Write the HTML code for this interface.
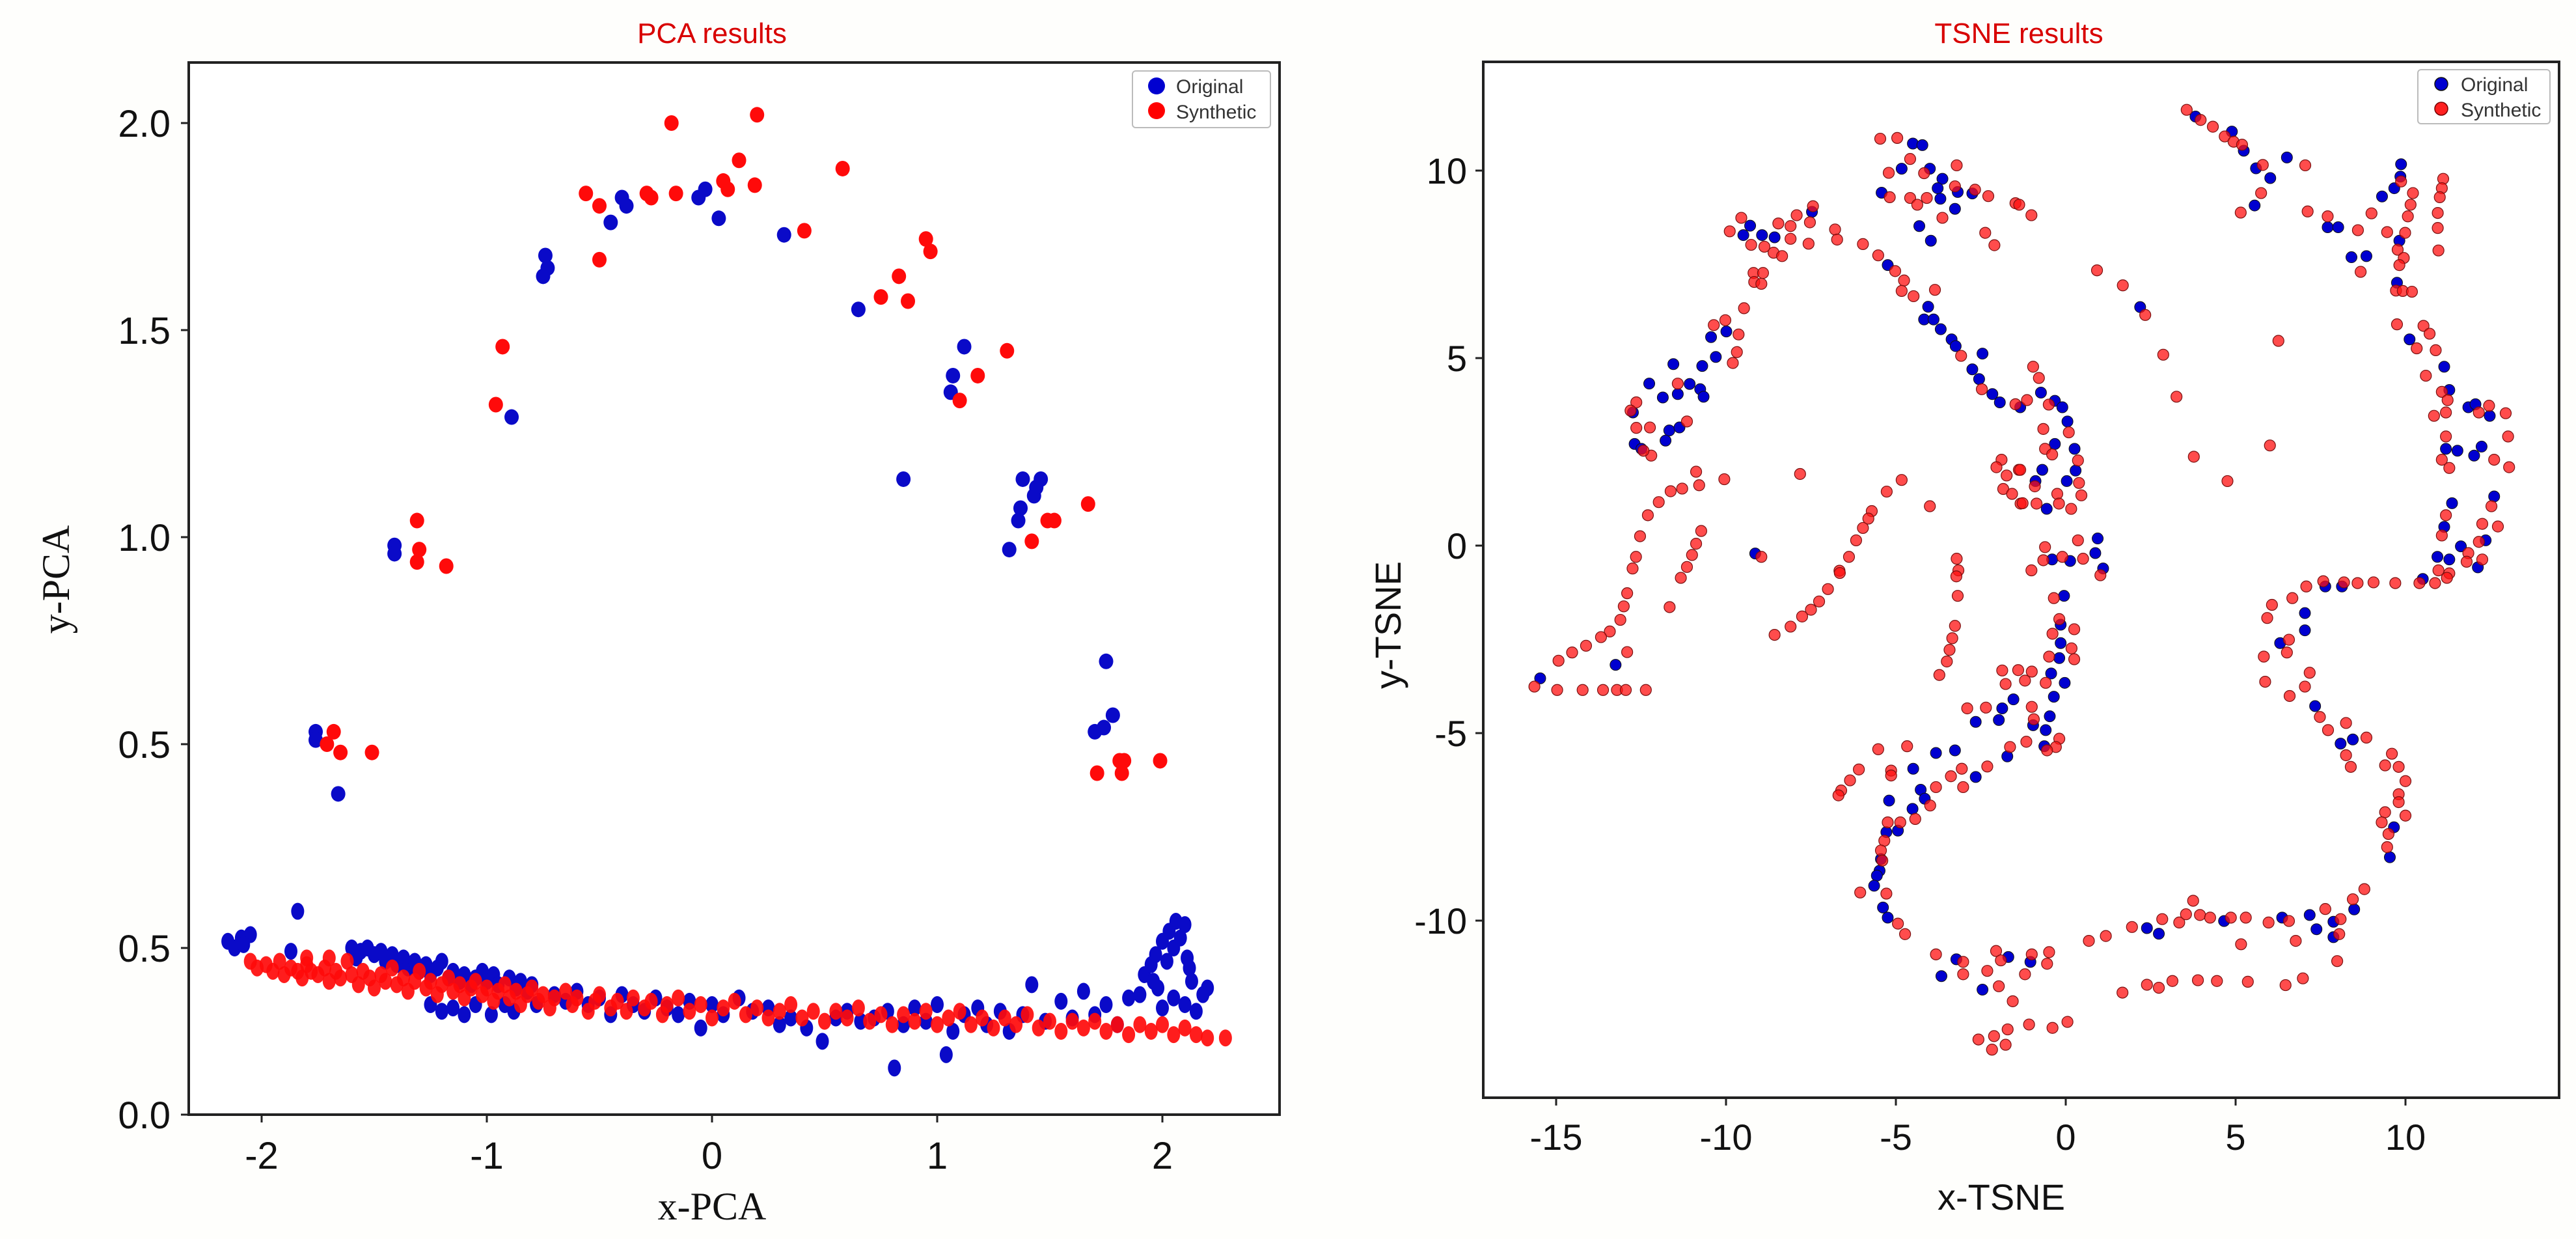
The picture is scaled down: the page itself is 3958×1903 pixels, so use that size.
<!DOCTYPE html>
<html><head><meta charset="utf-8">
<style>
html,body{margin:0;padding:0;background:#fefefc;}
svg{display:block;font-family:"Liberation Sans",sans-serif;}
</style></head>
<body>
<svg id="fig" width="3958" height="1903" viewBox="0 0 3958 1903" xmlns="http://www.w3.org/2000/svg">
<rect x="0" y="0" width="3958" height="1903" fill="#fefefc"/>
<g id="pca">
  <rect x="290" y="96" width="1676" height="1616" fill="#fff" stroke="#222" stroke-width="4"/>
  <text x="1094" y="66" font-size="44" fill="#d80000" text-anchor="middle">PCA results</text>
  <text x="1094" y="1873" font-size="60" font-family="Liberation Serif, serif" fill="#111" text-anchor="middle">x-PCA</text>
  <text x="0" y="0" font-size="60" font-family="Liberation Serif, serif" fill="#111" text-anchor="middle" transform="translate(106,890) rotate(-90)">y-PCA</text>
  <g id="pca-axes"></g>
  <g id="pca-marks"></g>
  <g>
    <rect x="1740" y="109" width="212" height="87" rx="5" fill="#fff" stroke="#bbb" stroke-width="2"/>
    <circle cx="1777" cy="132" r="13" fill="#0000d0"/>
    <text x="1807" y="143" font-size="30" fill="#333">Original</text>
    <circle cx="1777" cy="170" r="13" fill="#ff0000"/>
    <text x="1807" y="182" font-size="30" fill="#333">Synthetic</text>
  </g>
</g>
<g id="tsne">
  <rect x="2279" y="95" width="1653" height="1591" fill="#fff" stroke="#222" stroke-width="4"/>
  <text x="3102" y="66" font-size="44" fill="#d80000" text-anchor="middle">TSNE results</text>
  <text x="3075" y="1858" font-size="56" fill="#111" text-anchor="middle">x-TSNE</text>
  <text x="0" y="0" font-size="56" fill="#111" text-anchor="middle" transform="translate(2152,960) rotate(-90)">y-TSNE</text>
  <g id="tsne-axes"></g>
  <g id="tsne-marks"></g>
  <g>
    <rect x="3715" y="107" width="203" height="83" rx="5" fill="#fff" stroke="#bbb" stroke-width="2"/>
    <circle cx="3751" cy="129" r="10" fill="#0000d0" stroke="#111" stroke-width="1.5"/>
    <text x="3781" y="140" font-size="30" fill="#333">Original</text>
    <circle cx="3751" cy="167" r="10" fill="#ff2020" stroke="#700" stroke-width="1.5"/>
    <text x="3781" y="179" font-size="30" fill="#333">Synthetic</text>
  </g>
</g>
</svg>
<script>
// ---------- PCA data ----------
const pcaXTicks = [-2, -1, 0, 1, 2];
const pcaXTickLabels = ["-2", "-1", "0", "1", "2"];
const pcaYTicksUpper = [2.0, 1.5, 1.0, 0.5];
const pcaYTickLabelsUpper = ["2.0", "1.5", "1.0", "0.5"];
const pcaYTicksLower = [0.5, 0.0];
const pcaYTickLabelsLower = ["0.5", "0.0"];
const pcaArcOriginal = [[-0.40,1.82],[-0.38,1.80],[-0.45,1.76],[-0.03,1.84],[-0.06,1.82],[0.03,1.77],[0.32,1.73],[-0.74,1.68],[-0.73,1.65],[-0.75,1.63],[0.65,1.55],[1.12,1.46],[1.07,1.39],[1.06,1.35],[-0.89,1.29],[0.85,1.14],[1.38,1.14],[1.46,1.14],[1.44,1.12],[1.43,1.10],[1.37,1.07],[1.36,1.04],[1.32,0.97],[-1.41,0.98],[-1.41,0.96],[-1.76,0.53],[-1.76,0.51],[-1.66,0.38],[1.75,0.70],[1.78,0.57],[1.74,0.54],[1.70,0.53]];
const pcaArcSynthetic = [[-0.18,2.00],[0.20,2.02],[0.12,1.91],[0.58,1.89],[0.05,1.86],[0.07,1.84],[0.19,1.85],[-0.56,1.83],[-0.50,1.80],[-0.29,1.83],[-0.27,1.82],[-0.16,1.83],[0.41,1.74],[-0.50,1.67],[0.95,1.72],[0.97,1.69],[0.83,1.63],[0.75,1.58],[0.87,1.57],[-0.93,1.46],[1.31,1.45],[1.18,1.39],[1.10,1.33],[-0.96,1.32],[1.67,1.08],[1.49,1.04],[1.52,1.04],[1.42,0.99],[-1.31,1.04],[-1.30,0.97],[-1.31,0.94],[-1.18,0.93],[-1.68,0.53],[-1.71,0.50],[-1.65,0.48],[-1.51,0.48],[1.81,0.46],[1.83,0.46],[1.99,0.46],[1.71,0.43],[1.82,0.43]];
const pcaBandOriginal = [[-2.15,0.52],[-2.12,0.50],[-2.09,0.53],[-2.05,0.54],[-2.08,0.51],[-1.84,0.61],[-1.87,0.49],[-1.6,0.50],[-1.58,0.47],[-1.56,0.49],[-1.53,0.50],[-1.5,0.48],[-1.47,0.49],[-1.45,0.46],[-1.42,0.48],[-1.4,0.45],[-1.37,0.47],[-1.35,0.44],[-1.32,0.46],[-1.3,0.43],[-1.27,0.45],[-1.25,0.42],[-1.22,0.44],[-1.2,0.46],[-1.17,0.41],[-1.15,0.43],[-1.12,0.40],[-1.1,0.42],[-1.07,0.39],[-1.05,0.41],[-1.02,0.43],[-1.0,0.40],[-0.97,0.42],[-0.95,0.39],[-0.9,0.41],[-0.87,0.38],[-0.85,0.40],[-0.82,0.37],[-0.8,0.39],[-1.25,0.33],[-1.2,0.31],[-1.15,0.32],[-1.1,0.30],[-1.05,0.33],[-0.98,0.30],[-0.92,0.33],[-0.88,0.31],[-0.78,0.33],[-0.7,0.36],[-0.65,0.34],[-0.6,0.37],[-0.55,0.33],[-0.5,0.35],[-0.45,0.30],[-0.4,0.36],[-0.35,0.33],[-0.3,0.31],[-0.25,0.35],[-0.2,0.32],[-0.15,0.30],[-0.1,0.34],[-0.05,0.26],[0.0,0.33],[0.05,0.30],[0.12,0.35],[0.18,0.31],[0.25,0.32],[0.3,0.27],[0.35,0.29],[0.42,0.26],[0.49,0.22],[0.55,0.29],[0.6,0.31],[0.66,0.28],[0.72,0.29],[0.78,0.31],[0.81,0.14],[0.85,0.27],[0.9,0.32],[0.95,0.28],[1.0,0.33],[1.04,0.18],[1.07,0.25],[1.12,0.30],[1.18,0.32],[1.22,0.27],[1.28,0.31],[1.32,0.25],[1.38,0.30],[1.42,0.39],[1.48,0.28],[1.55,0.34],[1.6,0.29],[1.65,0.37],[1.7,0.30],[1.75,0.33],[1.8,0.27],[1.85,0.35],[1.92,0.42],[1.95,0.45],[1.97,0.48],[1.98,0.38],[2.0,0.52],[2.02,0.46],[2.03,0.55],[2.05,0.50],[2.06,0.58],[2.08,0.53],[2.1,0.57],[2.11,0.47],[2.12,0.44],[2.13,0.40],[2.05,0.35],[2.0,0.32],[2.1,0.33],[2.15,0.31],[2.18,0.36],[2.2,0.38],[1.96,0.40],[1.9,0.36]];
const pcaBandSynthetic = [[-2.05,0.46],[-2.02,0.44],[-1.98,0.45],[-1.95,0.43],[-1.92,0.46],[-1.9,0.42],[-1.87,0.44],[-1.84,0.43],[-1.82,0.41],[-1.8,0.45],[-1.78,0.43],[-1.75,0.42],[-1.72,0.44],[-1.7,0.40],[-1.67,0.43],[-1.65,0.41],[-1.62,0.46],[-1.6,0.42],[-1.57,0.39],[-1.55,0.43],[-1.52,0.41],[-1.5,0.38],[-1.47,0.42],[-1.45,0.40],[-1.42,0.44],[-1.4,0.39],[-1.37,0.41],[-1.35,0.37],[-1.32,0.40],[-1.3,0.43],[-1.27,0.38],[-1.25,0.40],[-1.22,0.36],[-1.2,0.39],[-1.17,0.41],[-1.15,0.37],[-1.12,0.39],[-1.1,0.35],[-1.07,0.38],[-1.05,0.40],[-1.02,0.36],[-1.0,0.38],[-0.97,0.34],[-0.95,0.37],[-0.92,0.39],[-0.9,0.35],[-0.87,0.37],[-0.85,0.33],[-0.82,0.36],[-0.8,0.38],[-0.77,0.34],[-0.75,0.36],[-0.72,0.32],[-0.7,0.35],[-0.65,0.37],[-0.62,0.33],[-0.6,0.35],[-0.55,0.31],[-0.52,0.34],[-0.5,0.36],[-0.45,0.32],[-0.42,0.34],[-0.38,0.31],[-0.35,0.35],[-0.3,0.32],[-0.27,0.34],[-0.22,0.30],[-0.2,0.33],[-0.15,0.35],[-0.1,0.31],[-0.05,0.33],[0.0,0.29],[0.05,0.32],[0.1,0.34],[0.15,0.30],[0.2,0.32],[0.25,0.29],[0.3,0.31],[0.35,0.33],[0.4,0.29],[0.45,0.31],[0.5,0.28],[0.55,0.31],[0.6,0.29],[0.65,0.32],[0.7,0.28],[0.75,0.30],[0.8,0.27],[0.85,0.30],[0.9,0.28],[0.95,0.31],[1.0,0.27],[1.05,0.29],[1.1,0.31],[1.15,0.27],[1.2,0.29],[1.25,0.26],[1.3,0.29],[1.35,0.27],[1.4,0.30],[1.45,0.26],[1.5,0.28],[1.55,0.25],[1.6,0.28],[1.65,0.26],[1.7,0.28],[1.75,0.25],[1.8,0.27],[1.85,0.24],[1.9,0.27],[1.95,0.25],[2.0,0.27],[2.05,0.24],[2.1,0.26],[2.15,0.24],[2.2,0.23],[2.28,0.23],[-1.80,0.47],[-1.70,0.47]];

// ---------- TSNE data ----------
const tsneXTicks = [-15, -10, -5, 0, 5, 10];
const tsneXTickLabels = ["-15", "-10", "-5", "0", "5", "10"];
const tsneYTicks = [10, 5, 0, -5, -10];
const tsneYTickLabels = ["10", "5", "0", "-5", "-10"];
const tsneOriginal = [[-4.5,10.72],[-4.22,10.68],[-4.83,10.05],[-4.0,10.05],[-3.63,9.78],[-3.77,9.53],[-3.18,9.43],[-2.75,9.39],[-5.42,9.41],[-3.69,9.25],[-3.26,8.98],[-4.31,8.52],[-3.97,8.13],[-9.29,8.53],[-9.49,8.28],[-8.94,8.28],[-8.57,8.22],[-7.47,8.9],[-5.24,7.48],[-4.05,6.37],[-4.17,6.03],[-3.89,6.03],[-3.68,5.77],[-3.36,5.5],[-3.24,5.32],[-2.45,5.12],[-2.75,4.7],[-2.55,4.44],[-2.16,4.04],[-1.94,3.82],[-9.99,5.71],[-10.44,5.56],[-10.3,5.03],[-10.7,4.79],[-11.55,4.84],[-12.26,4.32],[-11.86,3.95],[-11.42,4.04],[-11.07,4.31],[-10.76,4.17],[-10.66,3.97],[-12.74,3.55],[-11.67,3.07],[-11.37,3.15],[-11.78,2.8],[-12.69,2.71],[-12.49,2.58],[-9.14,-0.21],[3.82,11.44],[4.89,11.04],[5.24,10.53],[6.51,10.35],[5.6,10.06],[6.02,9.8],[5.56,9.07],[9.87,10.17],[9.85,9.84],[9.67,9.53],[9.31,9.31],[7.71,8.49],[8.02,8.49],[8.41,7.69],[8.85,7.72],[9.82,8.13],[9.75,7.01],[2.19,6.36],[10.12,5.5],[11.14,4.77],[11.29,4.15],[11.85,3.69],[12.06,3.77],[12.48,3.46],[11.19,2.58],[11.53,2.53],[12.24,2.64],[12.02,2.4],[11.37,1.13],[12.61,1.31],[11.14,0.5],[12.36,0.14],[11.63,-0.02],[10.94,-0.3],[11.29,-0.37],[12.13,-0.58],[-0.73,4.08],[-0.32,3.86],[-0.1,3.69],[0.05,3.31],[-0.32,2.71],[0.26,2.58],[-0.69,2.02],[0.29,2.0],[-0.89,1.72],[0.03,1.72],[-0.56,0.98],[0.94,0.19],[0.87,-0.2],[-0.4,-0.37],[0.13,-0.41],[1.1,-0.61],[-1.34,3.69],[-15.47,-3.54],[-13.25,-3.18],[-0.05,-1.34],[-0.15,-2.11],[-0.15,-2.6],[-0.19,-3.0],[-0.43,-3.41],[-0.03,-3.66],[-0.35,-4.03],[-1.54,-4.1],[-1.87,-4.34],[-1.97,-4.65],[-2.65,-4.7],[-0.47,-4.55],[-0.96,-4.79],[-0.59,-4.92],[-0.63,-5.35],[-1.72,-5.62],[-3.26,-5.46],[-3.82,-5.53],[-4.49,-5.95],[-2.65,-6.17],[-4.27,-6.51],[-4.15,-6.75],[-5.2,-6.8],[-4.51,-7.02],[-4.94,-7.6],[-5.28,-7.64],[-5.44,-8.36],[-5.48,-8.67],[-5.56,-8.8],[-5.64,-9.07],[-5.38,-9.65],[-5.24,-9.92],[-3.22,-11.03],[-3.66,-11.48],[-2.45,-11.84],[-1.69,-10.97],[-1.04,-11.1],[2.39,-10.2],[2.74,-10.35],[4.66,-10.01],[6.37,-9.92],[7.18,-9.85],[7.38,-10.23],[7.88,-10.03],[7.88,-10.44],[8.49,-9.7],[7.04,-1.8],[7.04,-2.26],[6.31,-2.6],[7.34,-4.28],[8.09,-5.28],[8.45,-5.17],[9.66,-7.51],[9.54,-8.31],[7.64,-1.09],[8.13,-1.09],[10.51,-0.89]];
const tsneSynthetic = [[-5.46,10.85],[-4.96,10.87],[-4.58,10.31],[-5.21,9.94],[-4.17,9.93],[-3.21,10.14],[-5.18,9.29],[-4.58,9.27],[-4.37,9.09],[-4.09,9.27],[-3.26,9.58],[-2.67,9.49],[-2.28,9.32],[-1.48,9.13],[-3.63,8.74],[-2.37,8.34],[-2.10,8.01],[-9.55,8.74],[-9.89,8.38],[-8.46,8.59],[-8.1,8.52],[-7.92,8.81],[-7.44,9.05],[-7.53,8.62],[-7.57,8.05],[-9.26,8.02],[-8.87,7.97],[-8.60,7.81],[-8.35,7.72],[-8.1,8.18],[-6.79,8.43],[-6.73,8.16],[-5.97,8.04],[-5.52,7.74],[-5.02,7.32],[-4.76,7.07],[-4.83,6.79],[-4.48,6.65],[-3.85,6.82],[-3.08,5.06],[-2.47,4.17],[-1.48,3.77],[-9.19,7.27],[-8.91,7.27],[-9.17,7.03],[-8.96,6.98],[-9.47,6.33],[-10.02,6.01],[-10.36,5.88],[-9.63,5.63],[-9.68,5.16],[-9.8,4.87],[-11.42,4.32],[-12.64,3.82],[-12.81,3.6],[-12.64,3.14],[-12.24,3.15],[-11.15,3.31],[-12.2,2.4],[-12.43,2.53],[-10.88,1.97],[-10.05,1.77],[-7.82,1.91],[-10.79,1.61],[-11.29,1.52],[-11.63,1.45],[-11.98,1.16],[-12.3,0.81],[-12.53,0.25],[-12.65,-0.30],[-12.75,-0.61],[-10.73,0.39],[-10.88,0.05],[-11.0,-0.25],[-11.15,-0.57],[-8.96,-0.30],[-4.83,1.75],[-5.27,1.44],[-4.0,1.05],[-5.71,0.92],[-5.81,0.72],[-5.97,0.47],[-6.17,0.14],[-6.38,-0.30],[-6.66,-0.67],[-3.21,-0.35],[-3.16,-0.66],[-1.89,2.29],[-2.04,2.09],[-1.74,1.87],[-1.38,2.02],[-1.84,1.51],[-1.58,1.38],[-1.33,1.12],[3.56,11.62],[3.97,11.35],[4.33,11.17],[4.68,10.91],[4.94,10.77],[5.19,10.69],[5.8,10.15],[5.75,9.4],[7.05,10.14],[5.15,8.88],[7.12,8.91],[7.71,8.78],[9.0,8.86],[8.6,8.41],[9.46,8.36],[8.68,7.30],[9.87,9.71],[10.22,9.4],[10.15,9.09],[10.07,8.78],[9.99,8.34],[9.77,7.89],[9.95,7.67],[9.82,7.48],[11.11,9.78],[11.07,9.53],[11.01,9.29],[10.95,8.87],[10.95,8.47],[10.97,7.87],[9.72,6.8],[9.92,6.79],[10.19,6.77],[-1.37,9.09],[-1.01,8.81],[0.92,7.34],[1.68,6.94],[2.34,6.15],[2.87,5.09],[3.26,3.97],[3.77,2.37],[4.76,1.72],[6.26,5.46],[6.01,2.67],[9.75,5.90],[10.53,5.86],[10.71,5.65],[10.33,5.26],[10.89,5.21],[10.6,4.53],[11.07,4.1],[11.24,3.88],[11.19,3.55],[10.84,3.46],[12.16,3.55],[12.46,3.73],[12.95,3.53],[13.02,2.91],[11.19,2.91],[11.07,2.29],[11.29,2.07],[12.61,2.29],[13.05,2.09],[12.53,1.05],[11.19,0.81],[12.26,0.58],[12.72,0.51],[11.07,0.27],[12.16,0.1],[11.85,-0.2],[12.26,-0.37],[11.8,-0.43],[10.97,-0.66],[11.29,-0.74],[-0.96,4.77],[-0.79,4.47],[-1.14,3.88],[-0.5,3.76],[-0.66,3.11],[0.09,3.02],[-0.61,2.58],[-0.4,2.43],[0.36,2.27],[-1.34,2.02],[-0.91,1.58],[0.39,1.67],[0.46,1.34],[-0.25,1.38],[-1.27,1.13],[-0.86,1.12],[-0.2,1.12],[0.16,0.98],[0.36,0.14],[-0.61,-0.04],[-0.66,-0.39],[-0.1,-0.3],[0.51,-0.35],[-1.01,-0.66],[1.02,-0.79],[-12.91,-1.27],[-13.01,-1.62],[-13.11,-1.98],[-13.42,-2.29],[-13.68,-2.44],[-14.12,-2.67],[-14.53,-2.85],[-14.93,-3.07],[-12.91,-2.84],[-11.66,-1.64],[-11.33,-0.86],[-15.64,-3.76],[-14.97,-3.85],[-14.22,-3.85],[-13.62,-3.85],[-13.21,-3.85],[-12.95,-3.85],[-12.36,-3.85],[-8.57,-2.38],[-8.1,-2.16],[-7.76,-1.89],[-7.5,-1.71],[-7.26,-1.49],[-7.0,-1.16],[-6.65,-0.73],[-3.22,-0.82],[-3.18,-1.34],[-3.26,-2.14],[-3.34,-2.47],[-3.42,-2.78],[-3.5,-3.09],[-3.72,-3.45],[-0.35,-1.4],[-0.19,-1.96],[0.25,-2.23],[-0.39,-2.35],[0.17,-2.74],[0.25,-3.03],[-0.49,-2.96],[-1.0,-3.36],[-1.4,-3.32],[-1.87,-3.33],[-1.2,-3.6],[-1.77,-3.69],[-0.59,-3.66],[-2.9,-4.34],[-2.35,-4.32],[-1.0,-4.3],[-0.94,-4.63],[-0.19,-5.15],[-0.29,-5.37],[-0.55,-5.46],[-1.16,-5.23],[-1.64,-5.37],[-2.31,-5.89],[-3.06,-5.95],[-3.38,-6.15],[-3.02,-6.44],[-3.82,-6.44],[-4.67,-5.35],[-5.52,-5.43],[-5.14,-6.0],[-5.14,-6.13],[-6.09,-5.97],[-6.35,-6.26],[-6.61,-6.53],[-6.69,-6.66],[-3.99,-6.93],[-4.43,-7.29],[-4.87,-7.38],[-5.24,-7.38],[-5.34,-7.87],[-5.44,-8.13],[-5.4,-8.4],[-6.05,-9.25],[-5.28,-9.28],[-4.94,-10.08],[-4.73,-10.36],[-3.82,-10.9],[-3.02,-11.1],[-2.05,-10.81],[-1.91,-11.06],[-1.0,-10.9],[-0.49,-10.84],[-0.55,-11.15],[-3.02,-11.43],[-2.31,-11.34],[-1.2,-11.43],[-1.97,-11.75],[-1.56,-12.15],[-1.08,-12.77],[-0.39,-12.86],[0.05,-12.7],[-2.57,-13.17],[-2.11,-13.08],[-1.71,-12.9],[-1.77,-13.31],[-2.17,-13.44],[0.68,-10.54],[1.18,-10.41],[1.95,-10.17],[2.84,-9.96],[3.34,-10.05],[3.54,-9.83],[3.75,-9.47],[3.95,-9.85],[4.25,-9.92],[4.86,-9.92],[5.3,-9.92],[5.16,-10.63],[5.97,-10.05],[6.57,-10.01],[6.77,-10.54],[7.64,-9.69],[8.09,-9.96],[8.05,-10.36],[8.45,-9.43],[8.79,-9.16],[7.99,-11.08],[1.67,-11.92],[2.39,-11.71],[2.74,-11.79],[3.14,-11.61],[3.89,-11.59],[4.45,-11.61],[5.36,-11.63],[6.47,-11.72],[6.98,-11.54],[7.08,-1.09],[6.67,-1.4],[6.07,-1.58],[5.93,-1.93],[6.57,-2.51],[6.51,-2.85],[5.83,-2.96],[5.87,-3.63],[7.18,-3.39],[7.04,-3.76],[6.59,-4.01],[7.48,-4.57],[7.72,-4.92],[8.25,-4.73],[8.85,-5.12],[8.25,-5.59],[8.39,-5.9],[9.6,-5.55],[9.4,-5.86],[9.8,-5.9],[10.0,-6.28],[9.8,-6.63],[9.8,-6.84],[10.0,-7.2],[9.4,-7.11],[9.3,-7.38],[9.5,-7.69],[9.46,-8.04],[7.58,-0.95],[8.19,-0.98],[8.59,-1.0],[9.06,-0.98],[9.7,-1.0],[10.41,-1.0],[10.87,-1.0],[11.22,-0.86]];

// ---------- scales ----------
function pcaX(v){ return 1094 + v * 346; }
function pcaYUpper(v){ return 189 + (2 - v) * 636; }
function pcaYLower(v){ return 1712 - v * 512; }
function tsneX(v){ return 3174 + v * 52.2; }
function tsneY(v){ return 838 - v * 57.6; }

const NS = "http://www.w3.org/2000/svg";
function mk(tag, attrs, parent){
  const e = document.createElementNS(NS, tag);
  for (const k in attrs) e.setAttribute(k, attrs[k]);
  parent.appendChild(e);
  return e;
}

// ---------- PCA axes ----------
const pA = document.getElementById('pca-axes');
pcaXTicks.forEach((t, i) => {
  const x = pcaX(t);
  const ln = mk('line', {x1:x, y1:1712, x2:x, y2:1724, stroke:'#222', 'stroke-width':3}, pA);
  
  
  const tx = mk('text', {x:x, y:1795, 'font-size':58, 'text-anchor':'middle', fill:'#111'}, pA);
  tx.textContent = pcaXTickLabels[i];
  
  
});
function pcaYTick(y, label){
  const ln = mk('line', {x1:278, y1:y, x2:290, y2:y, stroke:'#222', 'stroke-width':3}, pA);
  
  
  const tx = mk('text', {x:262, y:y + 21, 'font-size':58, 'text-anchor':'end', fill:'#111'}, pA);
  tx.textContent = label;
  
  
}
pcaYTicksUpper.forEach((t, i) => pcaYTick(pcaYUpper(t), pcaYTickLabelsUpper[i]));
pcaYTicksLower.forEach((t, i) => pcaYTick(pcaYLower(t), pcaYTickLabelsLower[i]));

// ---------- PCA marks ----------
const pM = document.getElementById('pca-marks');
pcaBandOriginal.forEach(d => {
  const c = mk('ellipse', {cx:pcaX(d[0]), cy:pcaYLower(d[1]), rx:10, ry:13, fill:'#0a0ac8'}, pM);
  
  
});
pcaBandSynthetic.forEach(d => {
  const c = mk('ellipse', {cx:pcaX(d[0]), cy:pcaYLower(d[1]), rx:10, ry:13, fill:'#ff0a0a', 'fill-opacity':0.92}, pM);
  
  
});
pcaArcOriginal.forEach(d => {
  const c = mk('ellipse', {cx:pcaX(d[0]), cy:pcaYUpper(d[1]), rx:11, ry:12, fill:'#0a0ac8'}, pM);
  
  
});
pcaArcSynthetic.forEach(d => {
  const c = mk('ellipse', {cx:pcaX(d[0]), cy:pcaYUpper(d[1]), rx:11, ry:12, fill:'#ff0a0a'}, pM);
  
  
});

// ---------- TSNE axes ----------
const tA = document.getElementById('tsne-axes');
tsneXTicks.forEach((t, i) => {
  const x = tsneX(t);
  const ln = mk('line', {x1:x, y1:1686, x2:x, y2:1698, stroke:'#222', 'stroke-width':3}, tA);
  
  
  const tx = mk('text', {x:x, y:1766, 'font-size':56, 'text-anchor':'middle', fill:'#111'}, tA);
  tx.textContent = tsneXTickLabels[i];
  
  
});
tsneYTicks.forEach((t, i) => {
  const y = tsneY(t);
  const ln = mk('line', {x1:2267, y1:y, x2:2279, y2:y, stroke:'#222', 'stroke-width':3}, tA);
  
  
  const tx = mk('text', {x:2254, y:y + 20, 'font-size':56, 'text-anchor':'end', fill:'#111'}, tA);
  tx.textContent = tsneYTickLabels[i];
  
  
});

// ---------- TSNE marks ----------
const tM = document.getElementById('tsne-marks');
tsneOriginal.forEach(d => {
  const c = mk('circle', {cx:tsneX(d[0]), cy:tsneY(d[1]), r:8.5, fill:'#0000d0', stroke:'#111', 'stroke-width':1}, tM);
  
  
});
tsneSynthetic.forEach(d => {
  const c = mk('circle', {cx:tsneX(d[0]), cy:tsneY(d[1]), r:8.5, fill:'#ff1010', 'fill-opacity':0.75, stroke:'#7a1010', 'stroke-width':1.2}, tM);
  
  
});
</script>
</body></html>
